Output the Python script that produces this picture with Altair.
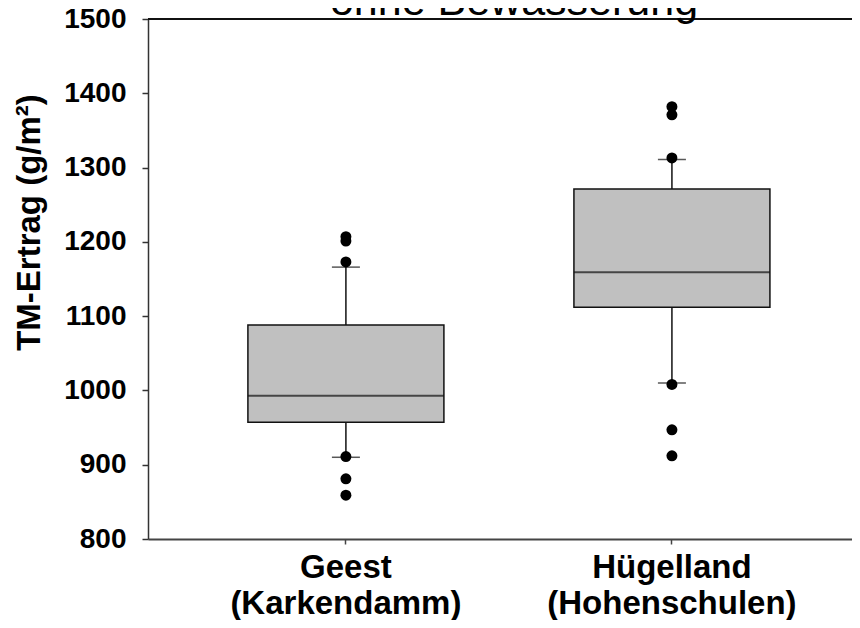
import altair as alt
import pandas as pd

title_text = "ohne Bewässerung"
y_title = "TM-Ertrag (g/m²)"
categories = ["Geest (Karkendamm)", "Hügelland (Hohenschulen)"]
q1 = [957, 1112]
median = [993, 1159]
q3 = [1088, 1271]
whisker_low = [910, 1010]
whisker_high = [1166, 1311]
outliers_geest = [1207, 1201, 1173, 911, 881, 859]
outliers_huegel = [1382, 1371, 1313, 1008, 947, 912]
y_ticks = [800, 900, 1000, 1100, 1200, 1300, 1400, 1500]

FONT = "Liberation Sans, Arial, sans-serif"

summary = pd.DataFrame({
    "cat": categories, "q1": q1, "med": median, "q3": q3,
    "lo": whisker_low, "hi": whisker_high,
})
points = pd.DataFrame({
    "cat": [categories[0]] * len(outliers_geest) + [categories[1]] * len(outliers_huegel),
    "v": outliers_geest + outliers_huegel,
})

xscale = alt.Scale(domain=categories, paddingInner=0.3988, paddingOuter=0.2791, align=0.549)
yscale = alt.Scale(domain=[800, 1500], nice=False, zero=False)

x_enc = alt.X("cat:N", scale=xscale, sort=categories,
              axis=alt.Axis(title=None, labelAngle=0, labelFont=FONT, labelFontSize=33,
                            labelFontWeight="bold", labelColor="black", labelLimit=0,
                            labelExpr="split(datum.label, ' ')", labelLineHeight=36,
                            labelPadding=7, labelBaseline="top",
                            tickSize=5, tickColor="#444", tickWidth=1.5,
                            domainColor="#444", domainWidth=2))
y_axis = alt.Axis(values=y_ticks, format="d", title=y_title, grid=False,
                  labelFont=FONT, labelFontSize=28, labelFontWeight="bold", labelColor="black",
                  labelPadding=16, tickSize=6, tickWidth=1.5, tickColor="#333",
                  domainColor="#333", domainWidth=1.5,
                  titleFont=FONT, titleFontSize=33, titleFontWeight="bold", titleColor="black",
                  titleX=-102, titleY=203)

base = alt.Chart(summary)

boxes = base.mark_bar(fill="#c0c0c0", stroke="#111", strokeWidth=1.5).encode(
    x=x_enc,
    y=alt.Y("q1:Q", scale=yscale, axis=y_axis),
    y2="q3:Q",
)
med_line = base.mark_tick(orient="horizontal", size=196, thickness=2, color="#111").encode(
    x=alt.X("cat:N", sort=categories), y=alt.Y("med:Q"))
whisk_up = base.mark_rule(color="#111", strokeWidth=1.5).encode(
    x=alt.X("cat:N", sort=categories), y=alt.Y("q3:Q"), y2="hi:Q")
whisk_lo = base.mark_rule(color="#111", strokeWidth=1.5).encode(
    x=alt.X("cat:N", sort=categories), y=alt.Y("lo:Q"), y2="q1:Q")
cap_hi = base.mark_tick(orient="horizontal", size=28, thickness=1.5, color="#111").encode(
    x=alt.X("cat:N", sort=categories), y=alt.Y("hi:Q"))
cap_lo = base.mark_tick(orient="horizontal", size=28, thickness=1.5, color="#111").encode(
    x=alt.X("cat:N", sort=categories), y=alt.Y("lo:Q"))
dots = alt.Chart(points).mark_circle(size=120, color="black", opacity=1).encode(
    x=alt.X("cat:N", sort=categories), y=alt.Y("v:Q"))
top_line = alt.Chart(pd.DataFrame({"t": [1500]})).mark_rule(color="#111", strokeWidth=2).encode(
    y=alt.Y("t:Q"))
title = alt.Chart(pd.DataFrame({"t": [title_text]})).mark_text(
    font=FONT, fontSize=43, color="black", baseline="alphabetic", align="center").encode(
    text="t:N", x=alt.value(366), y=alt.value(-4))

chart = alt.layer(boxes, med_line, whisk_up, whisk_lo, cap_hi, cap_lo, dots, top_line, title).properties(
    width=704, height=520,
    autosize=alt.AutoSizeParams(type="none"),
    padding={"left": 140, "top": 11, "right": 0, "bottom": 81},
).configure_view(stroke=None)

chart.save("out.html", embed_options={"renderer": "svg", "actions": False})
